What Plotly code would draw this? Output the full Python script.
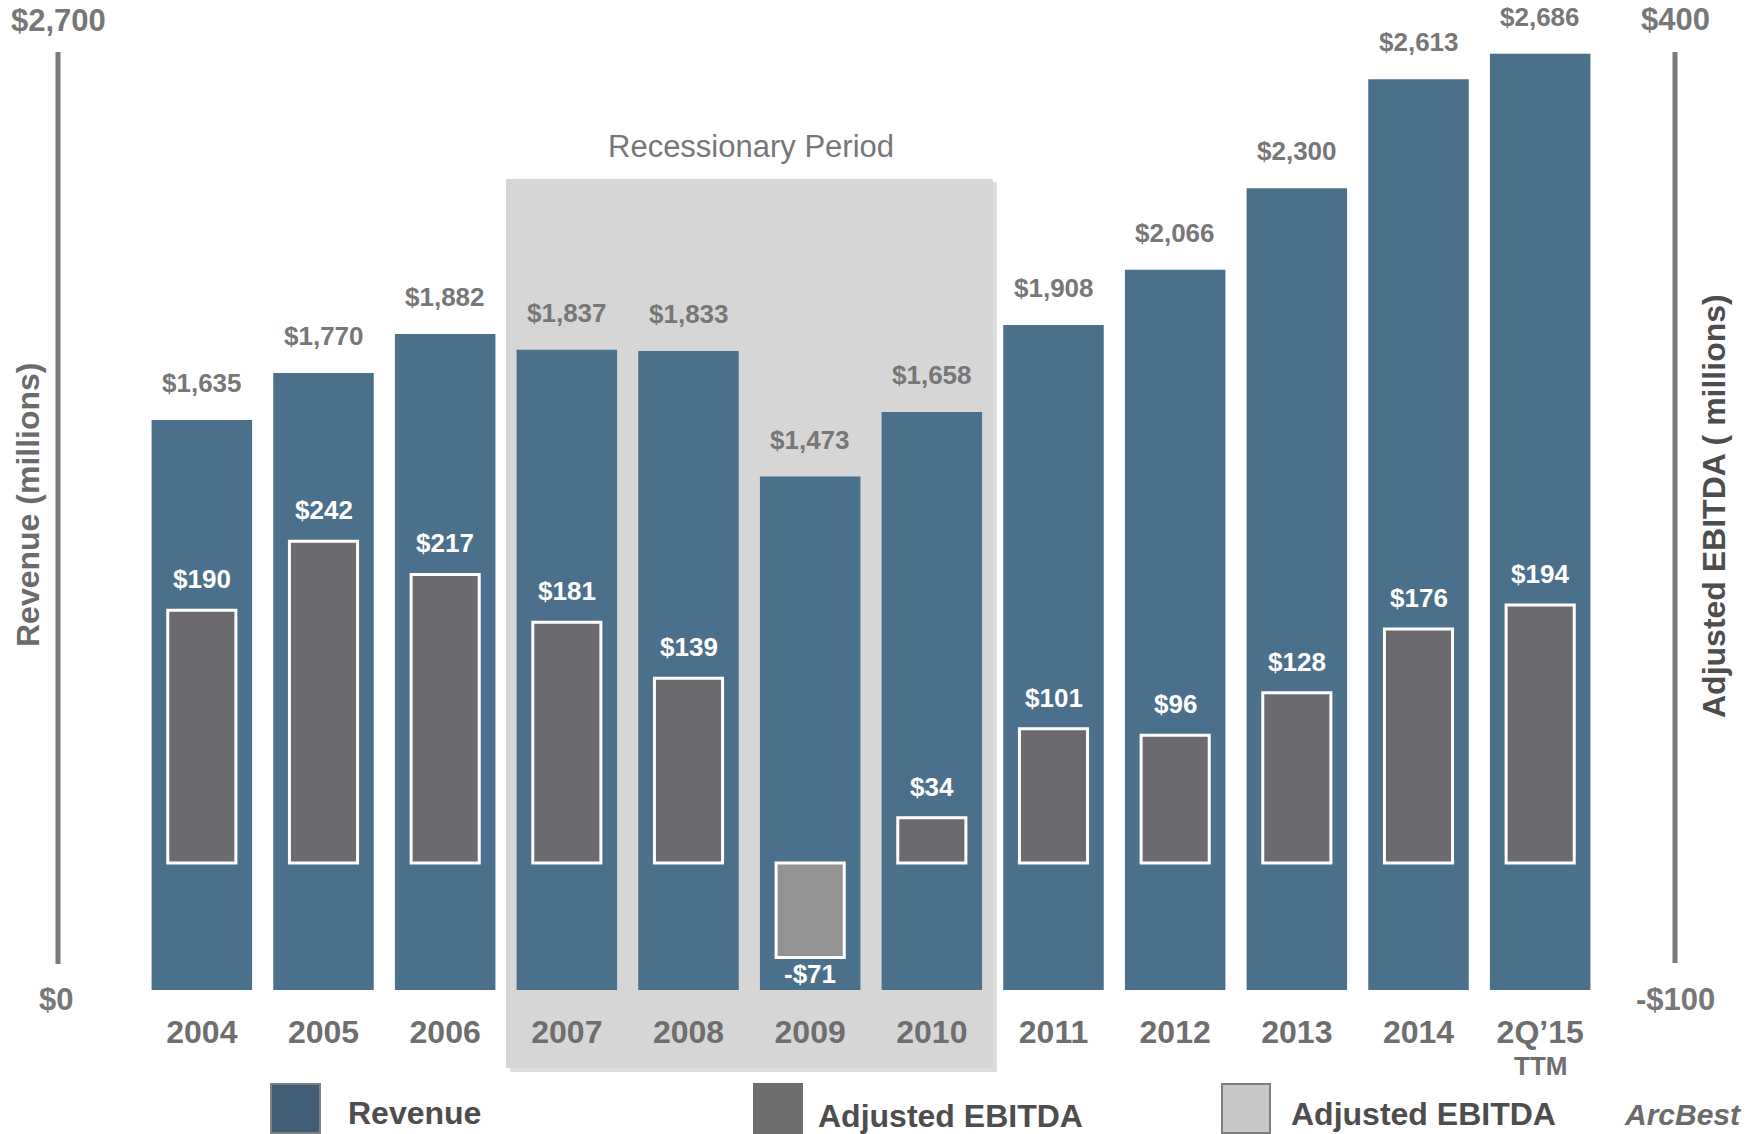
import plotly.graph_objects as go

categories = ["2004", "2005", "2006", "2007", "2008", "2009", "2010",
              "2011", "2012", "2013", "2014", "2Q’15"]
revenue = [1635, 1770, 1882, 1837, 1833, 1473, 1658, 1908, 2066, 2300, 2613, 2686]
ebitda = [190, 242, 217, 181, 139, -71, 34, 101, 96, 128, 176, 194]
revenue_labels = ["$1,635", "$1,770", "$1,882", "$1,837", "$1,833", "$1,473", "$1,658",
                  "$1,908", "$2,066", "$2,300", "$2,613", "$2,686"]
ebitda_labels = ["$190", "$242", "$217", "$181", "$139", "-$71", "$34",
                 "$101", "$96", "$128", "$176", "$194"]
recession = ["2007", "2010"]
left_ticks = ["$2,700", "$0"]
right_ticks = ["$400", "-$100"]

W, H = 1750, 1134
ML, MR, MT, MB = 141, 149, 0, 144
PW, PH = W - ML - MR, H - MT - MB
FONT = "Liberation Sans"

def px(x):
    return (x - ML) / PW

def py(y):
    return (H - MB - y) / PH

REV_COLOR = "#4B708B"
EB_COLOR = "#6A6A6F"
EB_NEG = "#939393"
GRAY_TXT = "#777777"

fig = go.Figure()
idx = list(range(len(categories)))

fig.add_trace(go.Bar(
    x=idx, y=revenue, width=0.826, offset=-0.413,
    marker=dict(color=REV_COLOR, line=dict(width=0)),
    yaxis="y", hoverinfo="skip", showlegend=False))

fig.add_trace(go.Bar(
    x=idx, y=ebitda, width=0.56, offset=-0.28,
    marker=dict(color=[EB_NEG if v < 0 else EB_COLOR for v in ebitda],
                line=dict(color="white", width=3)),
    yaxis="y2", hoverinfo="skip", showlegend=False))


def note(x, y, text, size, color, xref="paper", yref="paper", xanchor="center", angle=0, **kw):
    return dict(x=x, y=y, xref=xref, yref=yref, text=text, showarrow=False,
                xanchor=xanchor, yanchor="middle", textangle=angle,
                font=dict(family=FONT, size=size, color=color), **kw)


ann = []
for i, (v, t) in enumerate(zip(revenue, revenue_labels)):
    ann.append(note(i, v, f"<b>{t}</b>", 26, GRAY_TXT, xref="x", yref="y", yshift=37))
for i, (v, t) in enumerate(zip(ebitda, ebitda_labels)):
    ann.append(note(i, v, f"<b>{t}</b>", 26, "white", xref="x", yref="y2",
                    yshift=(31 if v >= 0 else -17)))

ann += [
    note(px(58), py(20), f"<b>{left_ticks[0]}</b>", 31, GRAY_TXT),
    note(px(56), py(999), f"<b>{left_ticks[1]}</b>", 31, GRAY_TXT),
    note(px(1675), py(19), f"<b>{right_ticks[0]}</b>", 31, GRAY_TXT),
    note(px(1675), py(999), f"<b>{right_ticks[1]}</b>", 31, GRAY_TXT),
    note(px(28), py(505), "<b>Revenue (millions)</b>", 32, "#6B6B6B", angle=-90),
    note(px(1714), py(506), "<b>Adjusted EBITDA ( millions)</b>", 32, "#4D4D4D", angle=-90),
    note(px(751), py(147), "Recessionary Period", 31, "#777777"),
    note(11, py(1066), "<b>TTM</b>", 26, "#6E6E6E", xref="x"),
    note(px(346), py(1113), "<b>Revenue</b>", 32, "#4D4D4D", xanchor="left"),
    note(px(816), py(1116), "<b>Adjusted EBITDA</b>", 32, "#4D4D4D", xanchor="left"),
    note(px(1289), py(1114), "<b>Adjusted EBITDA</b>", 32, "#4D4D4D", xanchor="left"),
    note(px(1622), py(1114), "<b><i>ArcBest</i></b>", 30, "#6B6B6B", xanchor="left"),
]

r0 = categories.index(recession[0]) - 0.5
r1 = categories.index(recession[1]) + 0.5
shapes = [
    dict(type="rect", xref="x", yref="paper", x0=r0 + 0.035, x1=r1 + 0.035,
         y0=py(1072), y1=py(182), fillcolor="rgba(0,0,0,0.13)", line=dict(width=0), layer="below"),
    dict(type="rect", xref="x", yref="paper", x0=r0, x1=r1,
         y0=py(1068), y1=py(179), fillcolor="#D6D6D6", line=dict(width=0), layer="below"),
    dict(type="line", xref="paper", yref="paper", x0=px(58), x1=px(58), y0=py(52), y1=py(964),
         line=dict(color="#7A7A7A", width=5)),
    dict(type="line", xref="paper", yref="paper", x0=px(1675), x1=px(1675), y0=py(52), y1=py(963),
         line=dict(color="#7A7A7A", width=5)),
    dict(type="rect", xref="paper", yref="paper", x0=px(271), x1=px(320), y0=py(1133), y1=py(1084),
         fillcolor="#415E78", line=dict(color="#808080", width=2)),
    dict(type="rect", xref="paper", yref="paper", x0=px(754), x1=px(802), y0=py(1133), y1=py(1084),
         fillcolor="#6E6E70", line=dict(color="#6E6E70", width=2)),
    dict(type="rect", xref="paper", yref="paper", x0=px(1222), x1=px(1270), y0=py(1133), y1=py(1084),
         fillcolor="#C8C8C8", line=dict(color="#808080", width=2)),
]

fig.update_layout(
    width=W, height=H,
    margin=dict(l=ML, r=MR, t=MT, b=MB),
    paper_bgcolor="white", plot_bgcolor="rgba(0,0,0,0)",
    barmode="overlay",
    showlegend=False,
    xaxis=dict(tickmode="array", tickvals=idx, ticktext=categories, range=[-0.5, 11.5],
               showgrid=False, zeroline=False, showline=False, ticks="",
               tickfont=dict(family=FONT, size=32, color="#6E6E6E", weight="bold"),
               ticklabelstandoff=20),
    yaxis=dict(range=[0, 2840], visible=False, showgrid=False, zeroline=False),
    yaxis2=dict(range=[-95.5, 648.9], overlaying="y", side="right", visible=False,
                showgrid=False, zeroline=False),
    annotations=ann,
    shapes=shapes,
)

fig.write_html("out.html")
